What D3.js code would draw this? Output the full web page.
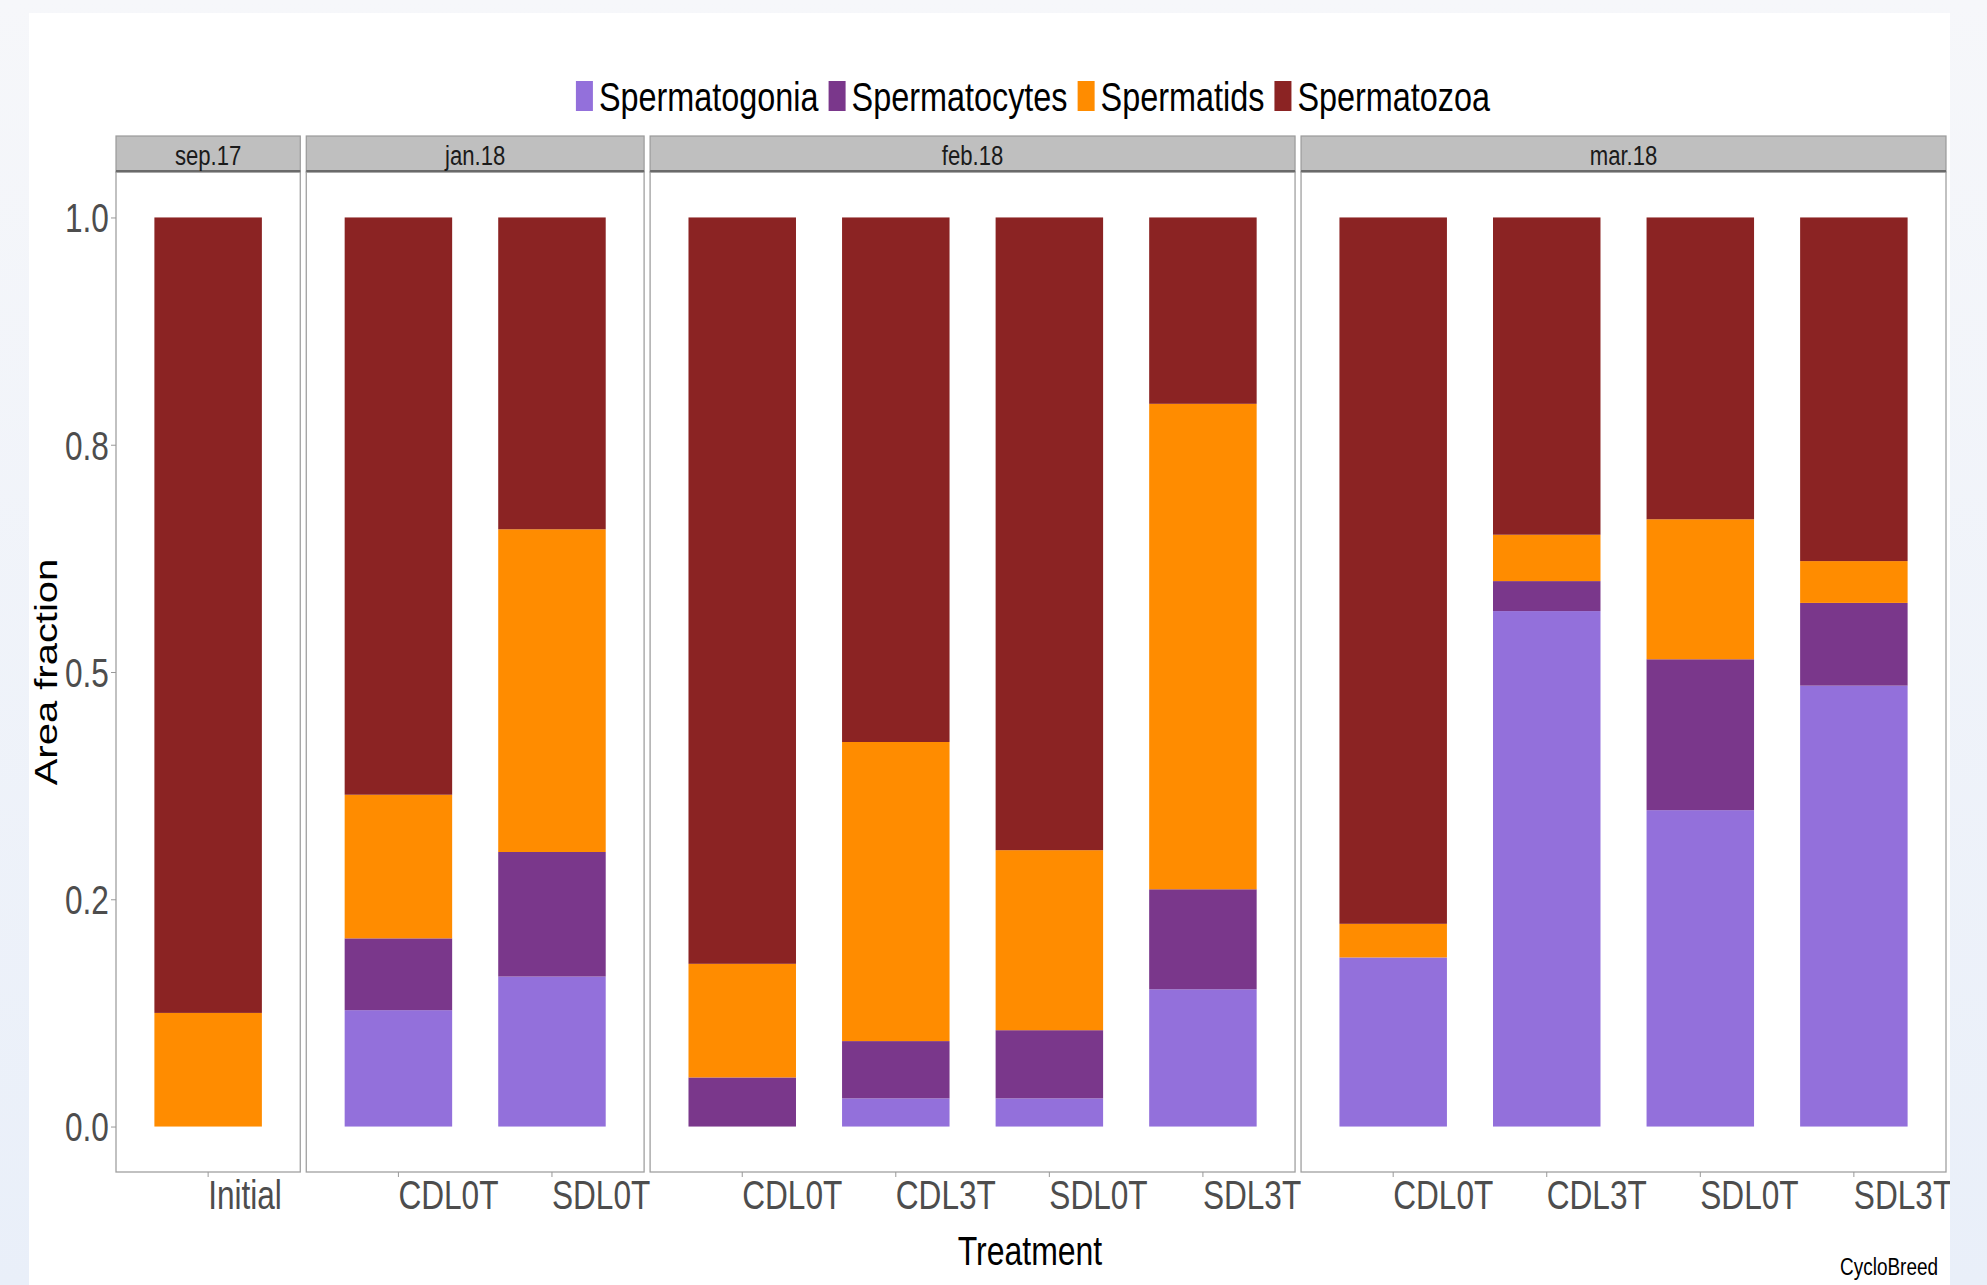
<!DOCTYPE html>
<html>

<head>
    <meta charset="UTF-8">
    <style>
        body {
            margin: 0;
            background: linear-gradient(#f6f7fa, #e9eff9);
            overflow: hidden;
        }

        svg text {
            font-family: "Liberation Sans", Arial, sans-serif;
        }
    </style>
</head>

<body>
    <script src="https://d3js.org/d3.v7.min.js"></script>
    <div id="chart"></div>
    <script>
        // cell types, stacked from the bottom up
        const cellTypes = ["Spermatogonia", "Spermatocytes", "Spermatids", "Spermatozoa"];
        const colors = ["#9370DB", "#7A378B", "#FF8C00", "#8B2323"];

        // facets and the treatments shown in each
        const months = ["sep.17", "jan.18", "feb.18", "mar.18"];
        const treatments = [
            ["Initial"],
            ["CDL0T", "SDL0T"],
            ["CDL0T", "CDL3T", "SDL0T", "SDL3T"],
            ["CDL0T", "CDL3T", "SDL0T", "SDL3T"]
        ];

        // area fractions, one value per bar (left to right across all facets)
        const spermatogonia = [0, 0.128, 0.165, 0, 0.031, 0.031, 0.151, 0.186, 0.567, 0.348, 0.485];
        const spermatocytes = [0, 0.079, 0.137, 0.054, 0.063, 0.075, 0.110, 0, 0.033, 0.166, 0.091];
        const spermatids = [0.125, 0.158, 0.355, 0.125, 0.329, 0.198, 0.534, 0.037, 0.051, 0.154, 0.046];
        const spermatozoa = [0.875, 0.635, 0.343, 0.821, 0.577, 0.696, 0.205, 0.777, 0.349, 0.332, 0.378];

        const yTicks = [0, 0.25, 0.5, 0.75, 1];
        const yTickLabels = ["0.0", "0.2", "0.5", "0.8", "1.0"];

        // build one row per bar
        const series = [spermatogonia, spermatocytes, spermatids, spermatozoa];
        let rows = [];
        let k = 0;
        months.forEach((m, mi) => {
            treatments[mi].forEach(t => {
                const row = { month: m, treatment: t };
                cellTypes.forEach((c, ci) => row[c] = series[ci][k]);
                rows.push(row);
                k++;
            });
        });

        const W = 1987, H = 1285;
        const sx = 0.79; // the picture is horizontally squeezed
        const plotLeft = 116, plotRight = 1946, gap = 6;
        const stripTop = 136, panelTop = 172, panelBottom = 1172;

        const svg = d3.select("#chart")
            .append("svg")
            .attr("width", W)
            .attr("height", H)
            .style("display", "block");

        svg.append("clipPath").attr("id", "card")
            .append("rect").attr("x", 29).attr("y", 13).attr("width", 1921).attr("height", H - 13);

        const card = svg.append("g").attr("clip-path", "url(#card)");
        card.append("rect")
            .attr("x", 29).attr("y", 13).attr("width", 1921).attr("height", H - 13)
            .attr("fill", "white");

        const y = d3.scaleLinear()
            .domain([-0.05, 1.05])
            .range([panelBottom, panelTop]);

        const stack = d3.stack().keys(cellTypes);
        const color = d3.scaleOrdinal().domain(cellTypes).range(colors);

        // panel widths follow the number of bars (free space)
        const units = treatments.map(t => t.length + 0.2);
        const unit = (plotRight - plotLeft - gap * (months.length - 1)) / d3.sum(units);

        let left = plotLeft;
        months.forEach((m, mi) => {
            const w = units[mi] * unit;
            const g = card.append("g").attr("transform", `translate(${left},0)`);
            const data = rows.filter(d => d.month == m);

            const x = d3.scaleBand()
                .domain(treatments[mi])
                .range([0, w])
                .paddingInner(0.3)
                .paddingOuter(0.25);

            // panel
            g.append("rect")
                .attr("x", 0).attr("y", panelTop)
                .attr("width", w).attr("height", panelBottom - panelTop)
                .attr("fill", "white")
                .attr("stroke", "#a0a0a0")
                .attr("stroke-width", 1.3);

            // strip
            g.append("rect")
                .attr("x", 0).attr("y", stripTop)
                .attr("width", w).attr("height", panelTop - stripTop)
                .attr("fill", "#bfbfbf")
                .attr("stroke", "#9a9a9a")
                .attr("stroke-width", 1.2);
            g.append("line")
                .attr("x1", 0).attr("x2", w)
                .attr("y1", panelTop - 1).attr("y2", panelTop - 1)
                .attr("stroke", "#6a6a6a")
                .attr("stroke-width", 2);
            g.append("text")
                .attr("transform", `translate(${w / 2},165) scale(${sx},1)`)
                .attr("text-anchor", "middle")
                .attr("font-size", 28)
                .attr("fill", "#1a1a1a")
                .text(m);

            // bars
            g.selectAll("g.layer")
                .data(stack(data))
                .enter()
                .append("g")
                .attr("class", "layer")
                .attr("fill", d => color(d.key))
                .selectAll("rect")
                .data(d => d)
                .enter()
                .append("rect")
                .attr("x", d => x(d.data.treatment))
                .attr("y", d => y(d[1]))
                .attr("width", x.bandwidth())
                .attr("height", d => y(d[0]) - y(d[1]));

            // x axis
            const xAxis = g.append("g")
                .attr("transform", `translate(0,${panelBottom})`)
                .call(d3.axisBottom(x).tickSize(5).tickSizeOuter(0));
            xAxis.select(".domain").remove();
            xAxis.selectAll("line").attr("stroke", "#999");
            xAxis.selectAll("text")
                .attr("y", 37)
                .attr("dy", null)
                .attr("text-anchor", "start")
                .attr("transform", `scale(${sx},1)`)
                .attr("font-size", 40)
                .attr("font-family", "Liberation Sans, Arial, sans-serif")
                .attr("fill", "#4d4d4d");

            left += w + gap;
        });

        // y axis
        const yAxis = card.append("g")
            .attr("transform", `translate(${plotLeft},0)`)
            .call(d3.axisLeft(y)
                .tickValues(yTicks)
                .tickFormat((d, i) => yTickLabels[i])
                .tickSize(5));
        yAxis.select(".domain").remove();
        yAxis.selectAll("line").attr("stroke", "#999");
        yAxis.selectAll("text")
            .attr("x", -9)
            .attr("dy", "0.36em")
            .attr("transform", `scale(${sx},1)`)
            .attr("font-size", 40)
            .attr("font-family", "Liberation Sans, Arial, sans-serif")
            .attr("fill", "#4d4d4d");

        // axis titles
        card.append("text")
            .attr("transform", `translate(57,${(panelTop + panelBottom) / 2}) scale(${sx},1) rotate(-90)`)
            .attr("text-anchor", "middle")
            .attr("font-size", 40)
            .attr("fill", "black")
            .text("Area fraction");

        card.append("text")
            .attr("transform", `translate(1030,1265) scale(0.78,1)`)
            .attr("text-anchor", "middle")
            .attr("font-size", 41)
            .attr("fill", "black")
            .text("Treatment");

        card.append("text")
            .attr("transform", `translate(1938,1275) scale(${sx},1)`)
            .attr("text-anchor", "end")
            .attr("font-size", 24)
            .attr("fill", "black")
            .text("CycloBreed");

        // legend
        const legend = card.append("g");
        const keyW = 17, keyH = 30, keyGap = 6, itemGap = 10, lsx = 0.79;
        const items = cellTypes.map(c => {
            const item = legend.append("g");
            item.append("rect")
                .attr("width", keyW).attr("height", keyH)
                .attr("y", 81)
                .attr("fill", color(c));
            const t = item.append("text")
                .attr("font-size", 41)
                .attr("fill", "black")
                .text(c);
            return { item, t, len: t.node().getComputedTextLength() * lsx };
        });
        const total = d3.sum(items, d => keyW + keyGap + d.len) + itemGap * (items.length - 1);
        let lx = 1033 - total / 2;
        items.forEach(d => {
            d.item.attr("transform", `translate(${lx},0)`);
            d.t.attr("transform", `translate(${keyW + keyGap},111) scale(${lsx},1)`);
            lx += keyW + keyGap + d.len + itemGap;
        });
    </script>
</body>

</html>
